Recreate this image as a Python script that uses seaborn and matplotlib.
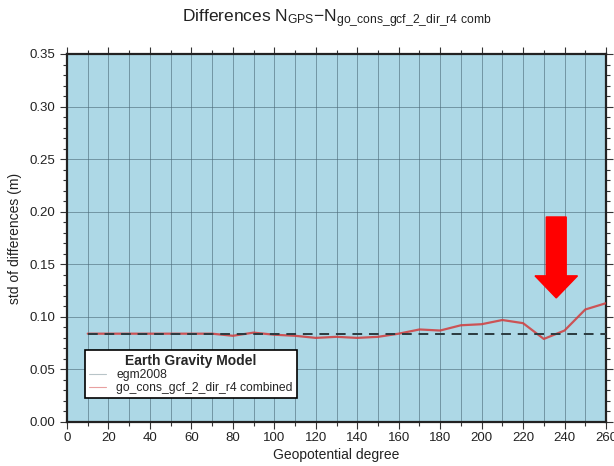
import matplotlib
matplotlib.use("Agg")
import matplotlib.pyplot as plt
import seaborn as sns
import pandas as pd
import numpy as np
from matplotlib.ticker import MultipleLocator
from matplotlib.lines import Line2D
from matplotlib.patches import FancyArrow

degrees = [10, 20, 30, 40, 50, 60, 70, 80, 90, 100, 110, 120, 130, 140, 150, 160,
           170, 180, 190, 200, 210, 220, 230, 240, 250, 260]
combined = [0.084, 0.084, 0.084, 0.084, 0.084, 0.084, 0.084, 0.082, 0.085, 0.083,
            0.082, 0.080, 0.081, 0.080, 0.081, 0.084, 0.088, 0.087, 0.092, 0.093,
            0.097, 0.094, 0.079, 0.087, 0.107, 0.113]
egm2008 = [0.084] * len(degrees)

sns.set_style("ticks")
plt.rcParams['font.family'] = ['Liberation Sans', 'DejaVu Sans']
plt.rcParams['mathtext.default'] = 'regular'

fig = plt.figure(figsize=(6.14, 4.66), dpi=100)
ax = fig.add_axes([67/614, 44/466, 539/614, 368/466])
ax.set_facecolor("#add8e6")

df = pd.DataFrame({"deg": degrees, "comb": combined, "egm": egm2008})
sns.lineplot(data=df, x="deg", y="comb", ax=ax, color="#d23c3c", lw=1.6, alpha=0.85, zorder=3)
sns.lineplot(data=df, x="deg", y="egm", ax=ax, color="#2b3a3f", lw=1.4, ls=(0, (5, 3.5)), zorder=4)

ax.set_xlim(0, 260)
ax.set_ylim(0, 0.35)
ax.xaxis.set_major_locator(MultipleLocator(20))
ax.xaxis.set_minor_locator(MultipleLocator(10))
ax.yaxis.set_major_locator(MultipleLocator(0.05))
ax.yaxis.set_minor_locator(MultipleLocator(0.01))
ax.yaxis.set_major_formatter(matplotlib.ticker.FormatStrFormatter('%.2f'))
ax.grid(True, which='major', axis='y', color='#4a6a78', lw=0.7, alpha=0.6)
ax.grid(True, which='both', axis='x', color='#4a6a78', lw=0.7, alpha=0.6)
ax.tick_params(which='both', top=True, right=True, direction='out', labelsize=9.5,
               colors='#333333', labelcolor='#222222')
ax.tick_params(axis='x', which='both', pad=2)
ax.tick_params(which='major', length=5, width=0.8)
ax.tick_params(which='minor', length=3, width=0.8)
for s in ax.spines.values():
    s.set_linewidth(1.6)
    s.set_color('#222222')

ax.set_xlabel("Geopotential degree", fontsize=10, color='#222222', labelpad=3)
ax.set_ylabel("std of differences (m)", fontsize=10, color='#222222', labelpad=5)

fig.text(337/614, 1 - 18/466,
         r"Differences N$_{GPS}$$-$N$_{go\_cons\_gcf\_2\_dir\_r4\ comb}$",
         ha='center', va='center', fontsize=12.5, color='#222222')

handles = [Line2D([], [], color='#b8c4c8', lw=0.8),
           Line2D([], [], color='#e8a0a0', lw=0.8)]
leg = ax.legend(handles, ["egm2008", "go_cons_gcf_2_dir_r4 combined"],
                title="Earth Gravity Model", loc='lower left',
                bbox_to_anchor=(18/539, 24/368), fontsize=8.7, title_fontsize=10,
                frameon=True, fancybox=False, borderpad=0.3, labelspacing=0.1,
                handlelength=1.4, handletextpad=0.9, borderaxespad=0)
leg.get_title().set_fontweight('bold')
leg.get_frame().set_edgecolor('black')
leg.get_frame().set_linewidth(1.2)
leg.get_frame().set_facecolor('white')
leg.get_frame().set_alpha(1)

arrow = FancyArrow(236, 0.195, 0, -0.077, width=9.6, head_width=20.5,
                   head_length=0.021, length_includes_head=True,
                   color='#ff0000', zorder=6)
ax.add_patch(arrow)

fig.savefig("out.png", dpi=100)
